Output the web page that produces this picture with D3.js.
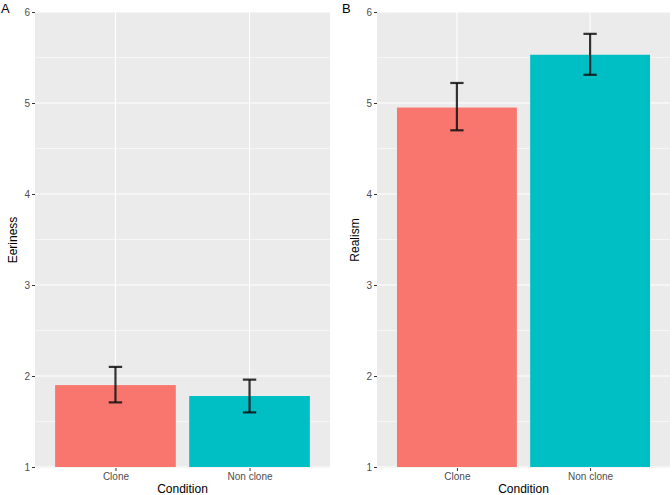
<!DOCTYPE html>
<html>
<head>
<meta charset="utf-8">
<script src="https://cdn.jsdelivr.net/npm/d3@7"></script>
<style>
  body { margin: 0; background: #fff; }
  text { font-family: "Liberation Sans", Arial, sans-serif; }
</style>
</head>
<body>
<div id="chart"></div>
<script>
// data
var conditions = ["Clone", "Non clone"];
var colors = ["#F8766D", "#00BFC4"];
var eerinessMean = [1.90, 1.78];
var eerinessLow = [1.71, 1.60];
var eerinessHigh = [2.10, 1.96];
var realismMean = [4.95, 5.53];
var realismLow = [4.70, 5.31];
var realismHigh = [5.22, 5.76];
var yTicks = [1, 2, 3, 4, 5, 6];

var svgWidth = 672;
var svgHeight = 495;

var svg = d3.select("#chart")
    .append("svg")
    .attr("width", svgWidth)
    .attr("height", svgHeight);

// one ggplot-like panel
function drawPanel(opts) {
    var left = opts.left, right = opts.right;
    var top = 12, bottom = 468;
    var g = svg.append("g");

    var y = d3.scaleLinear().domain([1, 6]).range([467, 12]);
    // discrete axis with 0.6 expansion on each side
    var x = d3.scaleLinear().domain([0.4, 2.6]).range([left, right]);

    g.append("rect")
        .attr("x", left).attr("y", top)
        .attr("width", right - left).attr("height", bottom - top)
        .attr("fill", "#EBEBEB");

    // minor grid
    g.selectAll(".minor")
        .data(d3.range(1.5, 6, 1))
        .enter().append("line")
        .attr("x1", left).attr("x2", right)
        .attr("y1", d => y(d)).attr("y2", d => y(d))
        .attr("stroke", "#fff").attr("stroke-width", 0.55);

    // major grid
    g.selectAll(".major")
        .data(yTicks)
        .enter().append("line")
        .attr("x1", left).attr("x2", right)
        .attr("y1", d => y(d)).attr("y2", d => y(d))
        .attr("stroke", "#fff").attr("stroke-width", 1.1);

    g.selectAll(".vgrid")
        .data(conditions)
        .enter().append("line")
        .attr("x1", (d, i) => x(i + 1)).attr("x2", (d, i) => x(i + 1))
        .attr("y1", top).attr("y2", bottom)
        .attr("stroke", "#fff").attr("stroke-width", 1.1);

    // bars
    g.selectAll(".bar")
        .data(opts.mean)
        .enter().append("rect")
        .attr("x", (d, i) => x(i + 1 - 0.45))
        .attr("width", x(1.45) - x(0.55))
        .attr("y", d => y(d))
        .attr("height", d => y(1) - y(d))
        .attr("fill", (d, i) => colors[i]);

    // error bars
    var eb = g.selectAll(".err")
        .data(opts.mean)
        .enter().append("g")
        .attr("stroke", "#111")
        .attr("stroke-opacity", 0.85)
        .attr("stroke-width", 2.2);
    eb.append("line")
        .attr("x1", (d, i) => x(i + 1)).attr("x2", (d, i) => x(i + 1))
        .attr("y1", (d, i) => y(opts.low[i])).attr("y2", (d, i) => y(opts.high[i]));
    eb.append("line")
        .attr("x1", (d, i) => x(i + 0.95)).attr("x2", (d, i) => x(i + 1.05))
        .attr("y1", (d, i) => y(opts.low[i])).attr("y2", (d, i) => y(opts.low[i]));
    eb.append("line")
        .attr("x1", (d, i) => x(i + 0.95)).attr("x2", (d, i) => x(i + 1.05))
        .attr("y1", (d, i) => y(opts.high[i])).attr("y2", (d, i) => y(opts.high[i]));

    // y axis
    var yAxis = d3.axisLeft(y).tickValues(yTicks).tickSize(3).tickPadding(2).tickFormat(d3.format("d"));
    var ya = g.append("g")
        .attr("transform", `translate(${left},0)`)
        .call(yAxis);
    ya.select(".domain").remove();
    ya.selectAll("line").attr("stroke", "#333");
    ya.selectAll("text").attr("fill", "#4D4D4D").style("font-size", "10px");

    // x axis
    var xAxis = d3.axisBottom(x).tickValues([1, 2]).tickSize(3).tickPadding(2)
        .tickFormat((d) => conditions[d - 1]);
    var xa = g.append("g")
        .attr("transform", `translate(0,${bottom})`)
        .call(xAxis);
    xa.select(".domain").remove();
    xa.selectAll("line").attr("stroke", "#333");
    xa.selectAll("text").attr("fill", "#4D4D4D").style("font-size", "10px");

    // titles
    g.append("text")
        .attr("x", (left + right) / 2).attr("y", 492.5)
        .attr("text-anchor", "middle")
        .style("font-size", "12px")
        .text("Condition");

    g.append("text")
        .attr("transform", `translate(${left - 18},${(top + bottom) / 2}) rotate(-90)`)
        .attr("text-anchor", "middle")
        .style("font-size", "12px")
        .text(opts.ylabel);

    g.append("text")
        .attr("x", opts.tagX).attr("y", 13)
        .style("font-size", "13px")
        .text(opts.tag);
}

drawPanel({ left: 35, right: 330, mean: eerinessMean, low: eerinessLow, high: eerinessHigh, ylabel: "Eeriness", tag: "A", tagX: 1 });
drawPanel({ left: 377, right: 670, mean: realismMean, low: realismLow, high: realismHigh, ylabel: "Realism", tag: "B", tagX: 342 });
</script>
</body>
</html>
